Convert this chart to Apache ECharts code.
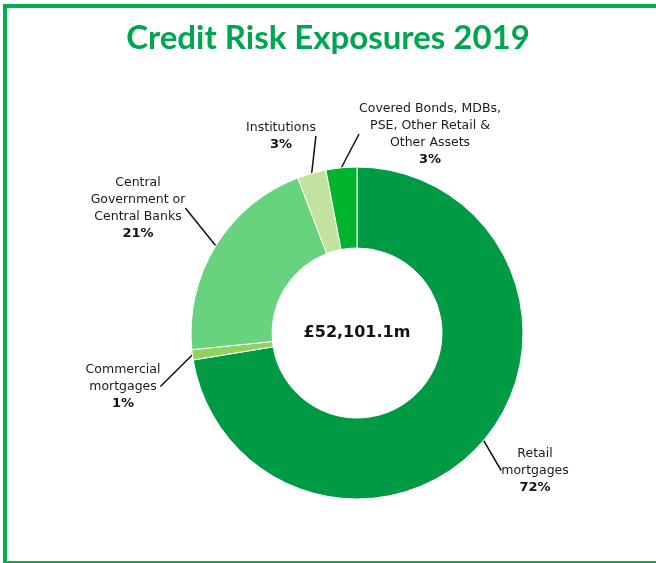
<!DOCTYPE html>
<html>
<head>
<meta charset="utf-8">
<script src="https://cdn.jsdelivr.net/npm/echarts@6/dist/echarts.min.js"></script>
<style>
html,body{margin:0;padding:0;background:#fff;}
#frame{position:absolute;left:3px;top:4px;width:700px;height:553px;border-left:4px solid #00b050;border-top:4px solid #00b050;border-bottom:4px solid #00b050;box-sizing:content-box;}
#chart{position:absolute;left:0;top:0;width:656px;height:563px;}
</style>
</head>
<body>
<div id="frame"></div>
<div id="chart"></div>
<script>
const titleText = 'Credit Risk Exposures 2019';
const totalLabel = '£52,101.1m';
const categories = ['Retail\nmortgages', 'Commercial\nmortgages', 'Central\nGovernment or\nCentral Banks', 'Institutions', 'Covered Bonds, MDBs,\nPSE, Other Retail &\nOther Assets'];
const shares = [72.4, 1.0, 20.8, 2.8, 3.0];
const colors = ['#009a44', '#8fd25c', '#67d37f', '#c3e29d', '#00b32d'];

// label anchor positions (layout only)
const labelPos = [
  {x: 535, y: 445, align: 'center', verticalAlign: 'top'},
  {x: 123, y: 361, align: 'center', verticalAlign: 'top'},
  {x: 138, y: 174, align: 'center', verticalAlign: 'top'},
  {x: 281, y: 119, align: 'center', verticalAlign: 'top'},
  {x: 430, y: 100, align: 'center', verticalAlign: 'top'}
];

const chart = echarts.init(document.getElementById('chart'), null, {renderer: 'canvas'});
chart.setOption({
  backgroundColor: 'transparent',
  animation: false,
  title: {
    text: titleText,
    left: 'center',
    top: 17,
    textStyle: {fontFamily: 'Lato', fontWeight: 'bold', fontSize: 33, color: '#00a550'}
  },
  graphic: [{
    type: 'text',
    x: 357,
    y: 333,
    style: {text: totalLabel, align: 'center', verticalAlign: 'middle', font: 'bold 16px "DejaVu Sans"', fill: '#111'}
  }],
  series: [{
    type: 'pie',
    center: [357, 333],
    radius: [85, 166],
    startAngle: 90,
    clockwise: true,
    avoidLabelOverlap: false,
    itemStyle: {borderColor: '#ffffff', borderWidth: 1},
    label: {
      show: true,
      position: 'outside',
      formatter: p => '{n|' + p.name.split('\n').join('}\n{n|') + '}\n{p|' + Math.round(p.percent) + '%}',
      rich: {
        n: {fontFamily: 'DejaVu Sans', fontSize: 12.5, color: '#1a1a1a', lineHeight: 17, align: 'center'},
        p: {fontFamily: 'DejaVu Sans', fontSize: 13, fontWeight: 'bold', color: '#111', lineHeight: 17, align: 'center'}
      }
    },
    labelLine: {show: true, length: 18, length2: 0, lineStyle: {color: '#111', width: 1.5}},
    labelLayout: function (params) {
      const p = labelPos[params.dataIndex];
      return {x: p.x, y: p.y, align: p.align, verticalAlign: p.verticalAlign};
    },
    data: categories.map((c, i) => ({name: c, value: shares[i], itemStyle: {color: colors[i]}}))
  }]
});
</script>
</body>
</html>
